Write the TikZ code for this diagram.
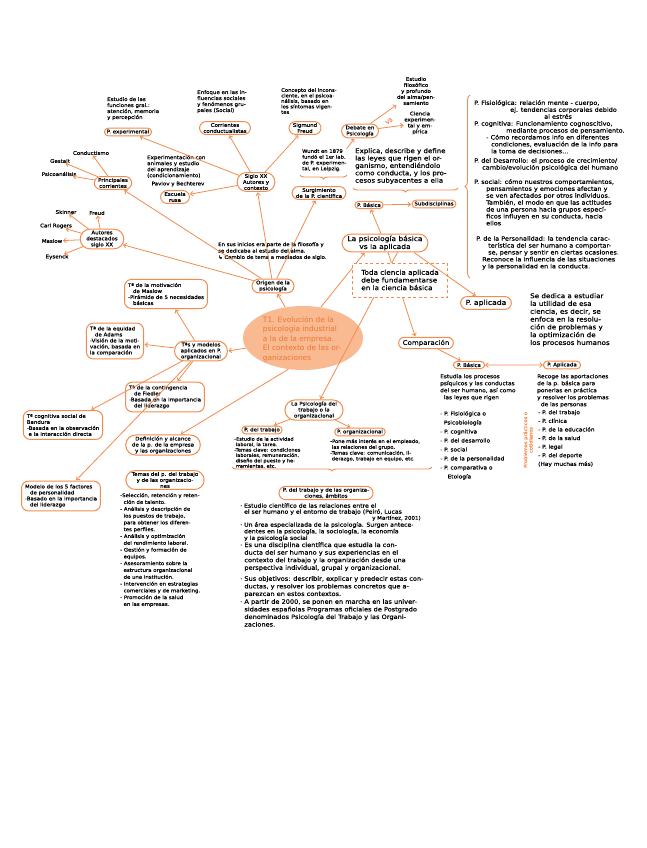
\documentclass[tikz,border=0pt]{standalone}
\usepackage{fontspec}
\setmainfont{DejaVu Sans}[FakeStretch=1.1,FakeBold=0.5]
\newfontfamily\tfont{DejaVu Sans}
\usetikzlibrary{shapes.misc,shapes.geometric,arrows.meta,decorations.pathreplacing}
\definecolor{orng}{RGB}{242,140,78}
\definecolor{peach}{RGB}{249,186,145}
\definecolor{ttl}{RGB}{236,118,50}
\newcommand\smf{\fontsize{5}{6}\selectfont}
\newcommand\mdf{\fontsize{6.4}{7.4}\selectfont}
\newcommand\rtf{\fontsize{5.9}{6.9}\selectfont}
\newcommand\tnf{\fontsize{4.6}{5.4}\selectfont}
\tikzset{
  ov/.style={rounded rectangle, draw=orng, line width=1pt, inner xsep=1.5pt, inner ysep=1.5pt, align=center, font=\smf},
  bx/.style={draw=orng, line width=1pt, rounded corners=7pt, inner sep=3.5pt, align=left, font=\smf},
  tx/.style={align=left, inner sep=0pt, font=\smf},
  arr/.style={draw=orng, line width=.8pt, -{Straight Barb[length=2.6pt,width=4.5pt]}, shorten >=0.5pt},
  arrb/.style={draw=orng, line width=.8pt, {Straight Barb[length=2.6pt,width=4.5pt]}-{Straight Barb[length=2.6pt,width=4.5pt]}},
  brc/.style={draw=orng, line width=.9pt, decorate, decoration={brace, amplitude=4pt}},
  brcm/.style={draw=orng, line width=.9pt, decorate, decoration={brace, mirror, amplitude=4pt}},
}
\begin{document}
\begin{tikzpicture}[x=1pt,y=-1pt]
\useasboundingbox (0,0) rectangle (646,848);
\fill[white] (0,0) rectangle (646,848);

% ---------- title
\node[ellipse, fill=peach, minimum width=120, minimum height=64] (ttlb) at (303,338) {};
\node[align=left, text=ttl, font=\tfont\fontsize{7.4}{9.5}\selectfont, inner sep=0] (title) at (302,339) {T1. Evolución de la\\psicología industrial\\a la de la empresa.\\El contexto de las or-\\ganizaciones};

% ---------- top left cluster
\node[tx, anchor=north west] (pexptx) at (107,97) {Estudio de las\\funciones gral.:\\atención, memoria\\y percepción};
\node[ov] (pexp) at (128,132) {P. experimental};
\node[tx] (cond) at (91,153) {Conductismo};
\node[tx] (gest) at (60,161) {Gestalt};
\node[tx] (psican) at (59,174) {Psicoanálisis};
\node[ov] (princ) at (113,183) {Principales\\corrientes};
\node[tx, anchor=north west] (exptx) at (147,155) {Experimentación con\\animales y estudio\\del aprendizaje\\(condicionamiento)};
\node[tx] (pavlov) at (178,184) {Pavlov y Bechterev};
\node[ov] (rusa) at (175,197) {Escuela\\rusa};
\node[tx, anchor=north west] (enfoque) at (197,90) {Enfoque en las in-\\fluencias sociales\\y fenómenos gru-\\pales (Social)};
\node[ov] (corr) at (225,128) {Corrientes\\conductualistas};
\node[tx, anchor=north west, font=\fontsize{4.8}{5.5}\selectfont] (concep) at (281,88) {Concepto del incons-\\ciente, en el psicoa-\\nálisis, basado en\\los síntomas vigen-\\tes};
\node[ov] (freud) at (305,128) {Sigmund\\Freud};
\node[ov] (siglo) at (256,182) {Siglo XX\\Autores y\\contexto};
\node[tx, anchor=north west, font=\fontsize{4.8}{5.8}\selectfont] (wundt) at (302,149) {Wundt en 1879\\fundó el 1er lab.\\de P. experimen-\\tal, en Leipzig.};
\draw[brcm] (300,175) -- (347,175);
\node[ov] (surg) at (319,193) {Surgimiento\\de la P. científica};
\node[ov] (debate) at (360,131) {Debate en\\Psicología};
\node[text=orng, rotate=35, font=\smf, inner sep=0] (vs) at (389,121) {VS};
\node[tx, align=center] (filos) at (416,91) {Estudio\\filosófico\\y profundo\\del alma/pen-\\samiento};
\node[tx, align=center] (cienc) at (420,123) {Ciencia\\experimen-\\tal y em-\\pírica};
\node[tx, anchor=north west, font=\mdf] (explica) at (355,148) {Explica, describe y define\\las leyes que rigen el or-\\ganismo, entendiéndolo\\como conducta, y los pro-\\cesos subyacentes a ella};
\draw[brcm] (353,188) -- (458,188);
\node[ov] (pbas1) at (369,205) {P. Básica};
\node[ov] (subd) at (434,204) {Subdisciplinas};

% ---------- subdisciplines
\draw[brc, decoration={brace, amplitude=5pt}] (470,278) -- (470,95);
\node[tx, anchor=north west, font=\rtf] (sd1) at (474,100) {P. Fisiológica: relación mente - cuerpo,\\\hspace*{36pt}ej. tendencias corporales debido\\\hspace*{70pt}al estrés};
\node[tx, anchor=north west, font=\rtf] (sd2) at (474,121) {P. cognitiva: Funcionamiento cognoscitivo,\\\hspace*{32pt}mediante procesos de pensamiento.\\\hspace*{12pt}- Cómo recordamos info en diferentes\\\hspace*{17pt}condiciones, evaluación de la info para\\\hspace*{17pt}la toma de decisiones...};
\node[tx, anchor=north west, font=\rtf] (sd3) at (474,158) {P. del Desarrollo: el proceso de crecimiento/\\\hspace*{8pt}cambio/evolución psicológica del humano};
\node[tx, anchor=north west, font=\rtf] (sd4) at (474,179) {P. social: cómo nuestros comportamientos,\\\hspace*{12pt}pensamientos y emociones afectan y\\\hspace*{12pt}se ven afectados por otros individuos.\\\hspace*{12pt}También, el modo en que las actitudes\\\hspace*{12pt}de una persona hacia grupos especí-\\\hspace*{12pt}ficos influyen en su conducta, hacia\\\hspace*{12pt}ellos};
\node[tx, anchor=north west, font=\rtf] (sd5) at (476,236) {P. de la Personalidad: la tendencia carac-\\\hspace*{12pt}terística del ser humano a comportar-\\\hspace*{12pt}se, pensar y sentir en ciertas ocasiones.\\\hspace*{6pt}Reconoce la influencia de las situaciones\\\hspace*{6pt}y la personalidad en la conducta.};

% ---------- left cluster
\node[ov] (aut) at (102,239) {Autores\\destacados\\siglo XX};
\node[tx] (skin) at (66,212) {Skinner};
\node[tx] (freud2) at (97,213) {Freud};
\node[tx] (rog) at (56,226) {Carl Rogers};
\node[tx] (mas) at (52,241) {Maslow};
\node[tx] (eys) at (57,257) {Eysenck};
\node[tx, anchor=north west, font=\fontsize{4.9}{6.4}\selectfont] (inic) at (218,242) {En sus inicios era parte de la filosofía y\\se dedicaba al estudio del alma.\\↳ Cambio de tema a mediados de siglo.};
\node[ov] (orig) at (273,286) {Origen de la\\psicología};

% ---------- basic vs applied
\node[ov, font=\fontsize{6.8}{7.9}\selectfont] (bva) at (385,243) {La psicología básica\\vs la aplicada};
\node[ov, font=\fontsize{7}{8}\selectfont, inner ysep=3pt, inner xsep=4pt] (papl) at (486,303) {P. aplicada};
\node[tx, anchor=north west, font=\fontsize{6.5}{7.8}\selectfont] (dedica) at (530,293) {Se dedica a estudiar\\la utilidad de esa\\ciencia, es decir, se\\enfoca en la resolu-\\ción de problemas y\\la optimización de\\los procesos humanos};

% ---------- models
\node[bx] (tmas) at (166,294) {Tª de la motivación\\\quad de Maslow\\-Pirámide de 5 necesidades\\\quad básicas};
\node[ov] (tasm) at (201,351) {Tªs y modelos\\aplicados en P.\\organizacional};
\node[bx] (tada) at (115,341) {Tª de la equidad\\\quad de Adams\\-Visión de la moti-\\vación, basada en\\la comparación};
\node[bx] (tfie) at (165,397) {Tª de la contingencia\\\quad de Fiedler\\-Basada en la importancia\\\quad del liderazgo};
\node[bx] (tban) at (63,425) {Tª cognitiva social de\\Bandura\\-Basada en la observación\\\ e la interacción directa};
\node[ov] (defi) at (163,445) {Definición y alcance\\de la p. de la empresa\\y las organizaciones};
\node[bx] (tcin) at (61,496) {Modelo de los 5 factores\\\quad de personalidad\\-Basado en la importancia\\\quad del liderazgo};
\node[ov] (temas) at (165,480) {Temas del p. del trabajo\\y de las organizacio-\\nes};
\node[tx, anchor=north west, font=\fontsize{4.9}{6.8}\selectfont] (teml) at (120,493) {-Selección, retención y reten-\\\ \ ción de talento.\\- Análisis y descripción de\\\ \ los puestos de trabajo,\\\ \ para obtener los diferen-\\\ \ tes perfiles.\\- Análisis y optimización\\\ \ del rendimiento laboral.\\- Gestión y formación de\\\ \ equipos.\\- Asesoramiento sobre la\\\ \ estructura organizacional\\\ \ de una institución.\\- Intervención en estrategias\\\ \ comerciales y de marketing.\\- Promoción de la salud\\\ \ en las empresas.};

% ---------- work psychology
\node[ov] (ptoo) at (314,410) {La Psicología del\\trabajo o la\\organizacional};
\node[ov] (ptr) at (262,430) {P. del trabajo};
\node[tx, anchor=north west, font=\tnf] (ptrt) at (234,437) {-Estudio de la actividad\\\ laboral, la tarea.\\-Temas clave: condiciones\\\ laborales, remuneración,\\\ diseño del puesto y he-\\\ rramientas, etc.};
\node[ov] (por) at (360,432) {P. organizacional};
\node[tx, anchor=north west, font=\fontsize{4.7}{5.8}\selectfont] (port) at (330,439) {-Pone más interés en el empleado,\\\ las relaciones del grupo.\\-Temas clave: comunicación, li-\\\ derazgo, trabajo en equipo, etc.};
\draw[brcm] (232,467) -- (432,467);
\node[ov] (ptyo) at (326,493) {P. del trabajo y de las organiza-\\ciones, ámbitos};
\node[tx, anchor=north west, font=\fontsize{5.6}{6}\selectfont] (pt1) at (240,503) {· Estudio científico de las relaciones entre el\\\ \ el ser humano y el entorno de trabajo (Peiró, Lucas\\\hspace*{132pt}{\fontsize{5}{5}\selectfont y Martínez, 2001)}};
\node[tx, anchor=north west, font=\fontsize{5.6}{6.6}\selectfont] (pt2) at (240,522) {· Un área especializada de la psicología. Surgen antece-\\\ \ dentes en la psicología, la sociología, la economía\\\ \ y la psicología social};
\node[tx, anchor=north west, font=\fontsize{6}{7.6}\selectfont] (pt3) at (240,542) {· Es una disciplina científica que estudia la con-\\\ \ ducta del ser humano y sus experiencias en el\\\ \ contexto del trabajo y la organización desde una\\\ \ perspectiva individual, grupal y organizacional.};
\node[tx, anchor=north west, font=\fontsize{6}{7.6}\selectfont] (pt4) at (240,576) {· Sus objetivos: describir, explicar y predecir estas con-\\\ \ ductas, y resolver los problemas concretos que a-\\\ \ parezcan en estos contextos.};
\node[tx, anchor=north west, font=\fontsize{6}{7.6}\selectfont] (pt5) at (240,599) {· A partir de 2000, se ponen en marcha en las univer-\\\ \ sidades españolas Programas oficiales de Postgrado\\\ \ denominados Psicología del Trabajo y las Organi-\\\ \ zaciones.};

% ---------- comparison
\node[ov, font=\fontsize{6.4}{7.4}\selectfont, inner ysep=2.5pt, inner xsep=3pt] (comp) at (426,343) {Comparación};
\node[ov, inner xsep=3pt] (pb2) at (469,365) {P. Básica};
\node[ov, inner xsep=3pt] (pa2) at (562,365) {P. Aplicada};
\node[tx, anchor=north west, font=\fontsize{5.3}{7}\selectfont] (pbt) at (440,374) {Estudia los procesos\\psíquicos y las conductas\\del ser humano, así como\\\ \ las leyes que rigen};
\node[tx, anchor=north west, font=\fontsize{5.3}{9}\selectfont] (pbl) at (440,411) {- P. Fisiológica o\\\ \ Psicobiología\\- P. cognitiva\\- P. del desarrollo\\- P. social\\- P. de la personalidad\\- P. comparativa o\\\ \ \ \ Etología};
\node[rotate=90, text=orng, align=center, font=\fontsize{4.6}{5.4}\selectfont, inner sep=0] (prob) at (528,440) {Problemas prácticos o\\cotidianos};
\node[tx, anchor=north west, font=\fontsize{5.3}{7}\selectfont] (pat) at (537,374) {Recoge las aportaciones\\de la p. básica para\\ponerlas en práctica\\y resolver los problemas\\\ \ de las personas};
\node[tx, anchor=north west, font=\fontsize{5.3}{8.6}\selectfont] (pal) at (538,410) {- P. del trabajo\\- P. clínica\\- P. de la educación\\- P. de la salud\\- P. legal\\- P. del deporte\\(Hay muchas más)};

% ---------- connectors
\draw[arr] (siglo) -- (pexp);
\draw[arr] (siglo) -- (corr);
\draw[arr] (siglo) -- (freud);
\draw[arr] (siglo) -- (rusa);
\draw[arr] (orig) -- (siglo);
\draw[arr] (orig) -- (surg);
\draw[arr] (orig) -- (princ);
\draw[arr] (orig) -- (aut);
\draw[arr] (ttlb) -- (orig);
\draw[arr] (princ) -- (cond);
\draw[arr] (princ) -- (gest);
\draw[arr] (princ) -- (psican);
\draw[arr] (aut) -- (skin);
\draw[arr] (aut) -- (freud2);
\draw[arr] (aut) -- (rog);
\draw[arr] (aut) -- (mas);
\draw[arr] (aut) -- (eys);
\draw[arr] (wundt.north east) -- (debate);
\draw[arr] (debate) -- (filos);
\draw[arr] (debate) -- (cienc);
\draw[arr] (bva) -- (pbas1);
\draw[arr] (pbas1) -- (subd);
\draw[arr] (ttlb.60) -- (bva.205);
\draw[arr] (bva.-72) -- (comp.150);
\draw[arr] (bva.-37) -- (ptoo.60);
\draw[arr] (ttlb.190) -- (tasm.east);
\draw[arr] (tasm) -- (tmas);
\draw[arr] (tasm) -- (tada);
\draw[arr] (tasm) -- (tfie);
\draw[arr] (tasm) -- (tban);
\draw[arr] (tasm) -- (tcin);
\draw[arr] (ttlb.245) -- (defi);
\draw[arr] (ptoo) -- (ptr);
\draw[arr] (ptoo) -- (por);
\draw[arr] (comp) -- (pb2);
\draw[arrb] (pb2) -- (pa2);

% dashed box (covers the lines that pass under it)
\node[draw=orng, dash pattern=on 3pt off 2.5pt, fill=white, line width=.9pt, inner sep=4pt, align=left, font=\fontsize{6.6}{7.7}\selectfont, minimum width=95, minimum height=34] (toda) at (400,280) {Toda ciencia aplicada\\debe fundamentarse\\en la ciencia básica};
\draw[arr] (bva.-18) -- (papl.145);
\end{tikzpicture}
\end{document}
